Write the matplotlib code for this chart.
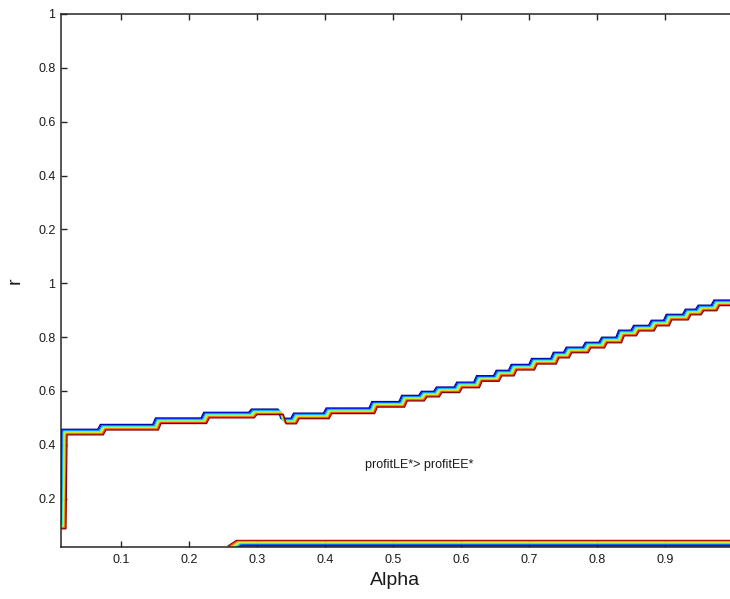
import numpy as np
import matplotlib
matplotlib.use("Agg")
import matplotlib.pyplot as plt
from matplotlib.transforms import offset_copy

plt.rcParams['font.family'] = ['Liberation Sans', 'DejaVu Sans']

# Boundary between the two regimes: alpha where r-level changes, and new level
start_alpha, start_r = 0.004, 0.098
step_alpha = [0.016, 0.072, 0.153, 0.224, 0.294, 0.337, 0.356, 0.404, 0.471,
              0.515, 0.544, 0.566, 0.596, 0.625, 0.654, 0.676, 0.706, 0.738,
              0.757, 0.785, 0.809, 0.834, 0.856, 0.882, 0.904, 0.932, 0.951,
              0.974]
step_r = [0.447, 0.465, 0.489, 0.510, 0.522, 0.488, 0.507, 0.526, 0.550,
          0.573, 0.588, 0.604, 0.622, 0.646, 0.666, 0.688, 0.710, 0.733,
          0.752, 0.770, 0.789, 0.815, 0.833, 0.852, 0.874, 0.893, 0.908,
          0.927]

# Lower boundary near r = 0
low_alpha = [0.262, 0.274, 1.0]
low_r = [0.014, 0.034, 0.034]

xtick_vals = [0.1, 0.2, 0.3, 0.4, 0.5, 0.6, 0.7, 0.8, 0.9, 1.0]
xtick_labels = ['0.1', '0.2', '0.3', '0.4', '0.5', '0.6', '0.7', '0.8', '0.9', '1']
ytick_vals = [0.2, 0.4, 0.6, 0.8, 1.0, 1.2, 1.4, 1.6, 1.8, 2.0]
ytick_labels = ['0.2', '0.4', '0.6', '0.8', '1', '0.2', '0.4', '0.6', '0.8', '1']

annotation = 'profitLE*> profitEE*'


def stepped_path(a0, r0, alphas, levels, end_alpha=1.0, slant=0.004):
    xs, ys = [a0], [r0]
    prev = r0
    for i, (a, lv) in enumerate(zip(alphas, levels)):
        s = slant * 0.4 if i == 0 else slant
        xs += [a - s / 2, a + s / 2]
        ys += [prev, lv]
        prev = lv
    xs.append(end_alpha)
    ys.append(prev)
    return np.array(xs), np.array(ys)


fig = plt.figure(figsize=(7.30, 5.99), dpi=100)
ax = fig.add_axes([61 / 730, 52 / 599, 672 / 730, 533 / 599])
ax.set_xlim(0.012, 1.0)
ax.set_ylim(0.02, 2.0)

n_lev = 8
colors = plt.cm.jet(np.linspace(0, 1, n_lev))
step_px = 0.8

ux, uy = stepped_path(start_alpha, start_r, step_alpha, step_r)
for k, c in enumerate(colors):
    off = (k - (n_lev - 1) / 2) * step_px
    tr = offset_copy(ax.transData, fig=fig, x=off, y=-off, units='dots')
    ax.plot(ux, uy, color=c, lw=0.9, transform=tr, solid_joinstyle='miter')

for k, c in enumerate(colors[::-1]):
    off = (k - (n_lev - 1) / 2) * step_px
    tr = offset_copy(ax.transData, fig=fig, x=off, y=-off, units='dots')
    ax.plot(low_alpha, low_r, color=c, lw=0.9, transform=tr)

ax.text(0.459, 0.325, annotation, fontsize=9, ha='left', va='center',
        color='#1a1a1a')

frame_col = '#262626'
for side in ['left', 'bottom', 'top', 'right']:
    ax.spines[side].set_color(frame_col)
    ax.spines[side].set_linewidth(1.1)

ax.set_xticks(xtick_vals)
ax.set_xticklabels(xtick_labels)
ax.set_yticks(ytick_vals)
ax.set_yticklabels(ytick_labels)
ax.tick_params(axis='both', direction='in', length=4.5, width=1.0,
               colors=frame_col, labelsize=9, labelcolor='#1a1a1a')
ax.tick_params(axis='x', top=True, pad=5)
ax.tick_params(axis='y', pad=4)

ax.set_xlabel('Alpha', fontsize=14, color='#1a1a1a')
ax.xaxis.set_label_coords(0.497, -0.062)
ax.xaxis.label.set_va('center')
ax.set_ylabel('r', fontsize=14, color='#1a1a1a')
ax.yaxis.set_label_coords(-0.068, 0.5)
ax.yaxis.label.set_va('center')

fig.savefig('out.png', dpi=100)
